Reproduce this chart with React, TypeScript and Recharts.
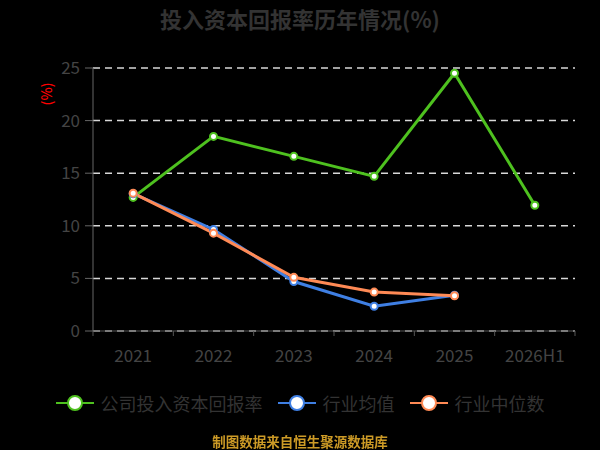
import { CartesianGrid, Legend, Line, LineChart, XAxis, YAxis } from "recharts";

const years = ["2021", "2022", "2023", "2024", "2025", "2026H1"];
const companyRoic = [12.7, 18.5, 16.6, 14.7, 24.5, 11.95];
const industryMean = [13.05, 9.65, 4.7, 2.35, 3.4, null];
const industryMedian = [13.1, 9.3, 5.1, 3.7, 3.35, null];
const yTicks = [0, 5, 10, 15, 20, 25];

const seriesNames = ["公司投入资本回报率", "行业均值", "行业中位数"];
const colors = ["#4ec11f", "#3f7fe3", "#ff8a55"];

const FONT = '"Noto Sans CJK SC", "Noto Sans", sans-serif';

const data = years.map((year, i) => ({
  year,
  company: companyRoic[i],
  mean: industryMean[i],
  median: industryMedian[i],
}));

const XTick = (props: any) => {
  const { x, y, payload, index } = props;
  const half = payload?.offset ?? 0;
  const last = index === years.length - 1;
  return (
    <g>
      <line x1={x - half} x2={x - half} y1={y} y2={y + 5} stroke="#555" />
      {last && <line x1={x + half} x2={x + half} y1={y} y2={y + 5} stroke="#555" />}
      <text
        x={x}
        y={y + 23}
        textAnchor="middle"
        dominantBaseline="central"
        fill="#444"
        fontSize={17}
        fontFamily={FONT}
      >
        {payload.value}
      </text>
    </g>
  );
};

const LegendContent = () => (
  <div
    style={{
      display: "flex",
      justifyContent: "center",
      alignItems: "center",
      gap: 15,
      fontFamily: FONT,
      fontSize: 18,
      color: "#333",
    }}
  >
    {seriesNames.map((name, i) => (
      <div key={name} style={{ display: "flex", alignItems: "center" }}>
        <svg width={38} height={18} style={{ marginRight: 7 }}>
          <line x1={0} x2={38} y1={9} y2={9} stroke={colors[i]} strokeWidth={2} />
          <circle cx={19} cy={9} r={7} fill="#fff" stroke={colors[i]} strokeWidth={2} />
        </svg>
        <span>{name}</span>
      </div>
    ))}
  </div>
);

export default function App() {
  const keys = ["company", "mean", "median"];
  return (
    <div
      style={{
        position: "fixed",
        left: 0,
        top: 0,
        width: 600,
        height: 450,
        background: "#000",
        fontFamily: FONT,
      }}
    >
      <div
        style={{
          position: "absolute",
          top: 4,
          width: 600,
          textAlign: "center",
          fontSize: 22,
          lineHeight: "28px",
          fontWeight: 700,
          color: "#333",
        }}
      >
        投入资本回报率历年情况(%)
      </div>
      <div
        style={{
          position: "absolute",
          left: 34,
          top: 82,
          width: 24,
          height: 24,
          display: "flex",
          alignItems: "center",
          justifyContent: "center",
          transform: "rotate(-90deg)",
          color: "#ff0000",
          fontSize: 14,
          fontWeight: 500,
          whiteSpace: "nowrap",
        }}
      >
        (%)
      </div>
      <LineChart
        width={600}
        height={450}
        data={data}
        margin={{ top: 68, right: 25, bottom: 89, left: 0 }}
      >
        <CartesianGrid vertical={false} stroke="#d8d8d8" strokeDasharray="7 5" strokeWidth={1.5} />
        <XAxis
          dataKey="year"
          scale="band"
          height={30}
          stroke="#555"
          tickLine={false}
          tickSize={0}
          tickMargin={0}
          interval={0}
          tick={<XTick />}
        />
        <YAxis
          width={93}
          domain={[0, 25]}
          ticks={yTicks}
          stroke="#666"
          tickSize={8}
          tickMargin={5}
          tick={{ fill: "#444", fontSize: 17, fontFamily: FONT }}
        />
        {keys.map((k, i) => (
          <Line
            key={k}
            dataKey={k}
            name={seriesNames[i]}
            stroke={colors[i]}
            strokeWidth={3}
            dot={{ r: 3.5, fill: "#fff", stroke: colors[i], strokeWidth: 2 }}
            activeDot={false}
            isAnimationActive={false}
          />
        ))}
        <Legend
          layout="horizontal"
          verticalAlign="middle"
          align="center"
          content={<LegendContent />}
          wrapperStyle={{ position: "absolute", top: 390, left: 0, width: 600, height: 22 }}
        />
      </LineChart>
      <div
        style={{
          position: "absolute",
          top: 433,
          width: 600,
          textAlign: "center",
          fontSize: 13.5,
          lineHeight: "16px",
          fontWeight: 700,
          color: "#cc9a26",
        }}
      >
        制图数据来自恒生聚源数据库
      </div>
    </div>
  );
}
